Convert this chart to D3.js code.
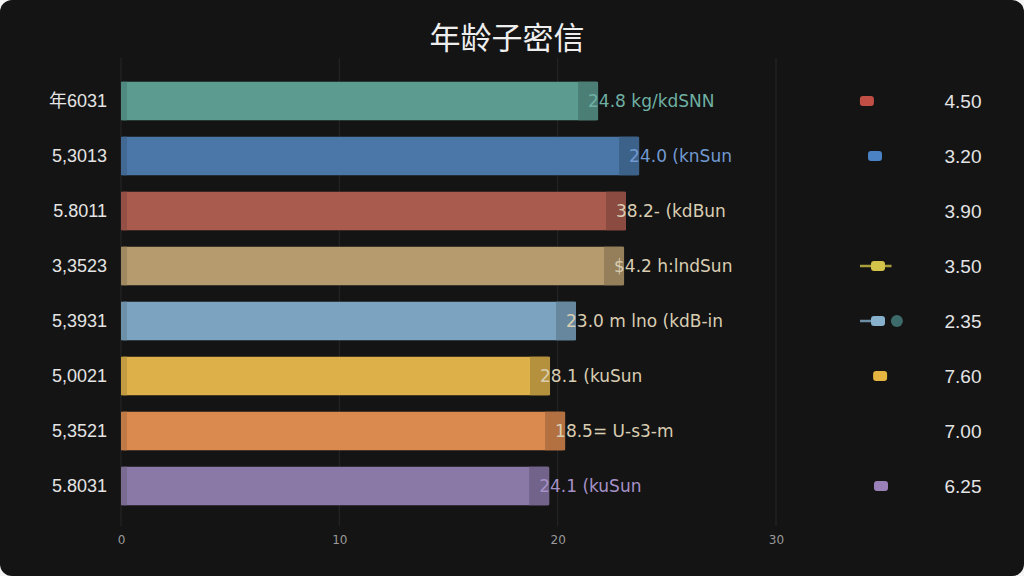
<!DOCTYPE html>
<html><head><meta charset="utf-8">
<script src="https://cdn.jsdelivr.net/npm/d3@7"></script>
<style>
html,body{margin:0;padding:0;background:#f4f4f4;}
svg{display:block;}
</style></head>
<body>
<svg id="chart" width="1024" height="576"></svg>
<script>
const title = "年龄子密信";
const categories = ["年6031","5,3013","5.8011","3,3523","5,3931","5,0021","5,3521","5.8031"];
const values = [21.85, 23.73, 23.13, 23.04, 20.84, 19.65, 20.34, 19.61];
const valueLabels = ["24.8 kg/kdSNN","24.0 (knSun","38.2- (kdBun","$4.2 h:lndSun","23.0 m lno (kdB-in","28.1 (kuSun","18.5= U-s3-m","24.1 (kuSun"];
const rightValues = ["4.50","3.20","3.90","3.50","2.35","7.60","7.00","6.25"];
const markerValues = [1.23, 1.5, null, 1.6, 1.6, 1.67, null, 1.7];
const whiskerLow = [null, null, null, 1.0, 1.0, null, null, null];
const whiskerHigh = [null, null, null, 2.05, 1.7, null, null, null];
const outlierValues = [null, null, null, null, 2.23, null, null, null];
const tickValues = [0, 10, 20, 30];
const tickLabels = ["0","10","20","30"];
const colors = ["#5b9b90","#4a77a7","#a95b4e","#b59b6e","#7ca4c0","#ddb04a","#da8a4f","#8a79a7"];
const labelColors = ["#6fb0a3","#7199d0","#d9cdb2","#d9cdb2","#d9cdb2","#d9cdb2","#d9cdb2","#a590c6"];
const markerColors = ["#c24f45","#4a82c4",null,"#d4c44a","#86b0cc","#e6b440",null,"#9a80b8"];

const svg = d3.select("#chart");
const W = 1024, H = 576;
svg.append("rect").attr("x",0).attr("y",0).attr("width",W).attr("height",H)
  .attr("rx",12).attr("fill","#141414");

svg.append("text").attr("x",507).attr("y",49).attr("text-anchor","middle")
  .attr("font-family","'Noto Sans CJK SC', sans-serif").attr("font-size",31)
  .attr("fill","#eeeeee").text(title);

const x = d3.scaleLinear().domain([0,30]).range([121,776]);
const y = d3.scaleBand().domain(categories).range([73.5,513.5]).paddingInner(0.3).paddingOuter(0.15);
const mx = d3.scaleLinear().domain([0,3]).range([830,920]);

// grid
const grid = svg.append("g");
grid.selectAll("line").data(tickValues).join("line")
  .attr("x1",d=>x(d)).attr("x2",d=>x(d)).attr("y1",58).attr("y2",526)
  .attr("stroke","#242424").attr("stroke-width",1.2);

// x axis tick labels
const xAxis = d3.axisBottom(x).tickValues(tickValues).tickFormat((d,i)=>tickLabels[i]).tickSize(0);
const gx = svg.append("g").attr("transform","translate(0,532)").call(xAxis);
gx.select(".domain").remove();
gx.selectAll("text").attr("fill","#9a9a9a").attr("font-size",12)
  .attr("font-family","'DejaVu Sans', sans-serif");

// y axis labels
const yAxis = d3.axisLeft(y).tickSize(0).tickPadding(0);
const gy = svg.append("g").attr("transform","translate(107,0)").call(yAxis);
gy.select(".domain").remove();
gy.selectAll("text").attr("fill","#e4e4e4").attr("font-size",18)
  .attr("font-family","'Liberation Sans', 'Noto Sans CJK SC', sans-serif").attr("dy","0.35em");

// bars
const bars = svg.append("g").selectAll("g").data(categories).join("g");
bars.append("rect")
  .attr("x",x(0)).attr("y",d=>y(d)).attr("width",(d,i)=>x(values[i])-x(0))
  .attr("height",y.bandwidth()).attr("rx",2).attr("fill",(d,i)=>colors[i]);
bars.append("rect")
  .attr("x",(d,i)=>x(values[i])-20).attr("y",d=>y(d)).attr("width",20)
  .attr("height",y.bandwidth()).attr("fill",(d,i)=>d3.color(colors[i]).darker(0.55));
bars.append("rect")
  .attr("x",x(0)).attr("y",d=>y(d)).attr("width",6)
  .attr("height",y.bandwidth()).attr("fill",(d,i)=>d3.color(colors[i]).darker(0.35));
bars.append("text")
  .attr("x",(d,i)=>x(values[i])-10).attr("y",d=>y(d)+y.bandwidth()/2).attr("dy","0.35em")
  .attr("font-family","'DejaVu Sans', sans-serif").attr("font-size",17)
  .attr("fill",(d,i)=>labelColors[i]).text((d,i)=>valueLabels[i]);

// markers
const cy = d => y(d)+y.bandwidth()/2;
const mg = svg.append("g");
categories.forEach((d,i)=>{
  if (whiskerLow[i]!==null) {
    mg.append("line").attr("x1",mx(whiskerLow[i])).attr("x2",mx(whiskerHigh[i]))
      .attr("y1",cy(d)).attr("y2",cy(d)).attr("stroke",d3.color(markerColors[i]).darker(0.6))
      .attr("stroke-width",2.5);
  }
  if (outlierValues[i]!==null) {
    mg.append("circle").attr("cx",mx(outlierValues[i])).attr("cy",cy(d)).attr("r",6)
      .attr("fill","#3d6a6a");
  }
  if (markerValues[i]!==null) {
    mg.append("rect").attr("x",mx(markerValues[i])-7).attr("y",cy(d)-5)
      .attr("width",14).attr("height",10).attr("rx",3).attr("fill",markerColors[i]);
  }
});

// right values
svg.append("g").selectAll("text").data(categories).join("text")
  .attr("x",963).attr("y",d=>cy(d)).attr("dy","0.35em").attr("text-anchor","middle")
  .attr("font-family","'Liberation Sans', sans-serif").attr("font-size",19)
  .attr("fill","#e4e4e4").text((d,i)=>rightValues[i]);
</script>
</body></html>
